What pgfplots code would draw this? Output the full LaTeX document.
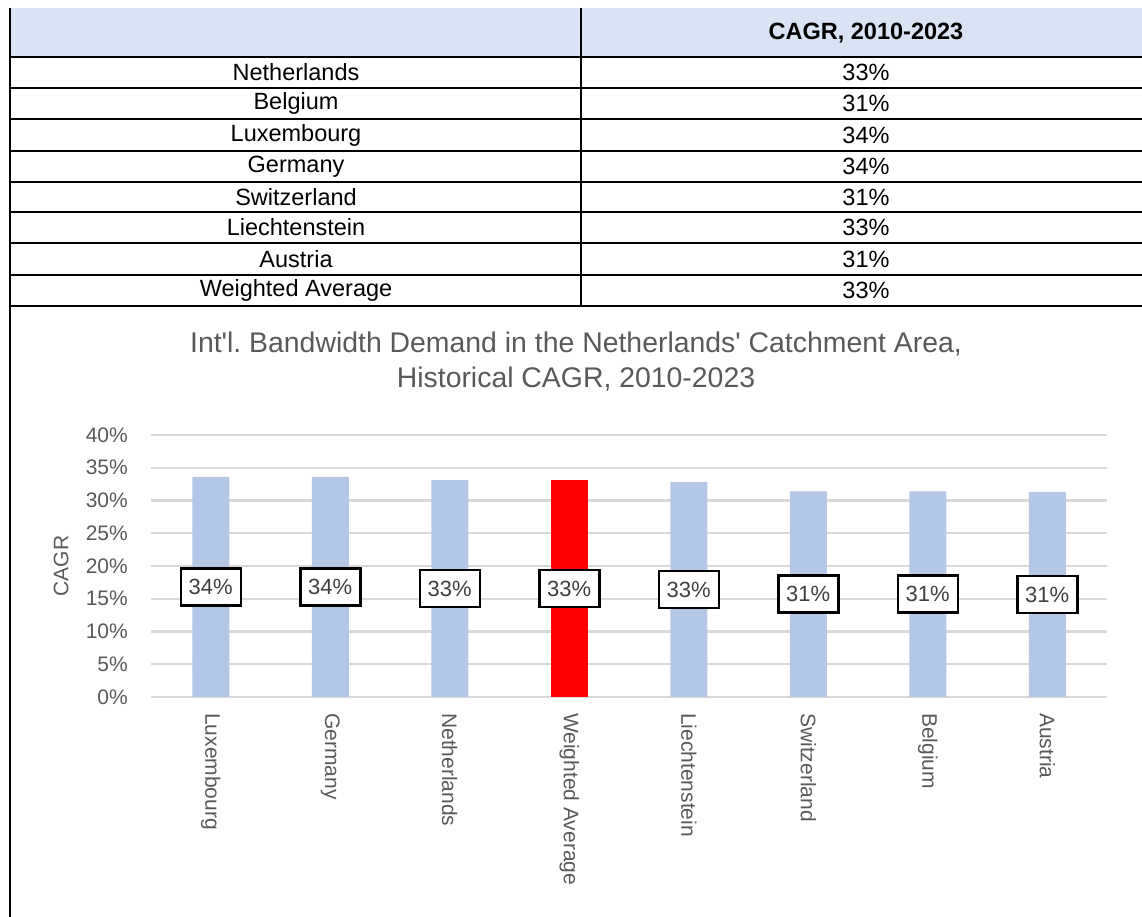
\documentclass[border=0pt]{standalone}
\usepackage{fontspec}
\setmainfont{Liberation Sans}
\usepackage{pgfplots}
\pgfplotsset{compat=1.18}
\usepackage{pgfplotstable}
\definecolor{barblue}{HTML}{B4C7E7}
\definecolor{hdr}{HTML}{DAE3F3}
\definecolor{txtgray}{HTML}{595959}
\definecolor{lbltext}{HTML}{404040}
\definecolor{gridgray}{HTML}{D9D9D9}

\pgfplotstableread{
x v lbl
0 33.6 34
1 33.6 34
2 33.1 33
4 32.8 33
5 31.4 31
6 31.4 31
7 31.3 31
}\bluedata
\pgfplotstableread{
x v lbl
3 33.1 33
}\reddata

\newcommand{\fs}[1]{\fontsize{#1}{#1}\selectfont}

\begin{document}
\begin{tikzpicture}[x=1pt,y=1pt]
\useasboundingbox (0,0) rectangle (1142,917);
% ---- table ----
\fill[hdr] (10,909) rectangle (1142,860);
\foreach \yy in {860,829,798,766,735,705,674,642,611}
  \draw[line width=1.8pt] (10,\yy) -- (1142,\yy);
\draw[line width=1.8pt] (10,909) -- (10,0);
\draw[line width=1.5pt] (581,909) -- (581,611);
\node[font=\bfseries\fs{23.5}] at (866,884) {CAGR, 2010-2023};
\foreach \n/\v/\yy in {Netherlands/33/844.5, Belgium/31/813.5, Luxembourg/34/782,
  Germany/34/750.5, Switzerland/31/720, Liechtenstein/33/689.5, Austria/31/658,
  Weighted Average/33/626.5}{
  \node[font=\fs{23.5}] at (296,\yy) {\n};
  \node[font=\fs{23.5}] at (866,\yy) {\v\%};
}
% ---- chart title ----
\node[font=\fontsize{28.4}{35}\selectfont, text=txtgray, align=center] at (576,555.5)
  {Int\textquotesingle l.\ Bandwidth Demand in the Netherlands\textquotesingle{} Catchment Area,\\Historical CAGR, 2010-2023};
% ---- chart ----
\begin{axis}[
  at={(151pt,220pt)}, anchor=south west, scale only axis,
  width=956pt, height=262pt,
  xmin=-0.5, xmax=7.5, ymin=0, ymax=40,
  clip=false,
  axis line style={draw=none}, major tick style={draw=none},
  ymajorgrids, grid style={gridgray, line width=2.3pt},
  ytick={0,5,...,40},
  yticklabel={\pgfmathprintnumber{\tick}\%},
  /pgf/number format/assume math mode=true,
  yticklabel style={font=\fs{21}, text=txtgray, inner sep=0pt, anchor=east},
  yticklabel shift=23pt,
  xtick={0,...,7},
  xticklabels={Luxembourg,Germany,Netherlands,Weighted Average,Liechtenstein,Switzerland,Belgium,Austria},
  xticklabel style={rotate=-90, anchor=west, font=\fs{21}, text=txtgray, inner sep=0pt},
  xticklabel shift=16pt,
  ylabel={CAGR},
  ylabel style={font=\fs{21}, text=txtgray, at={(axis description cs:-0.094,0.5)}, anchor=center},
]
\addplot[ybar, bar width=37pt, fill=barblue, draw=none] table[x=x,y=v]{\bluedata};
\addplot[ybar, bar width=37pt, fill=red, draw=none] table[x=x,y=v]{\reddata};
\addplot[draw=none, mark=none, nodes near coords={\pgfplotspointmeta\%}, point meta=explicit symbolic,
  every node near coord/.append style={anchor=center, draw=black, line width=2.5pt, fill=white,
    minimum width=60pt, minimum height=37pt, inner sep=0pt, font=\fs{22}, text=lbltext}]
  table[x=x, y expr=\thisrow{v}/2, meta=lbl]{\bluedata};
\addplot[draw=none, mark=none, nodes near coords={\pgfplotspointmeta\%}, point meta=explicit symbolic,
  every node near coord/.append style={anchor=center, draw=black, line width=2.5pt, fill=white,
    minimum width=60pt, minimum height=37pt, inner sep=0pt, font=\fs{22}, text=lbltext}]
  table[x=x, y expr=\thisrow{v}/2, meta=lbl]{\reddata};
\end{axis}
\end{tikzpicture}
\end{document}
